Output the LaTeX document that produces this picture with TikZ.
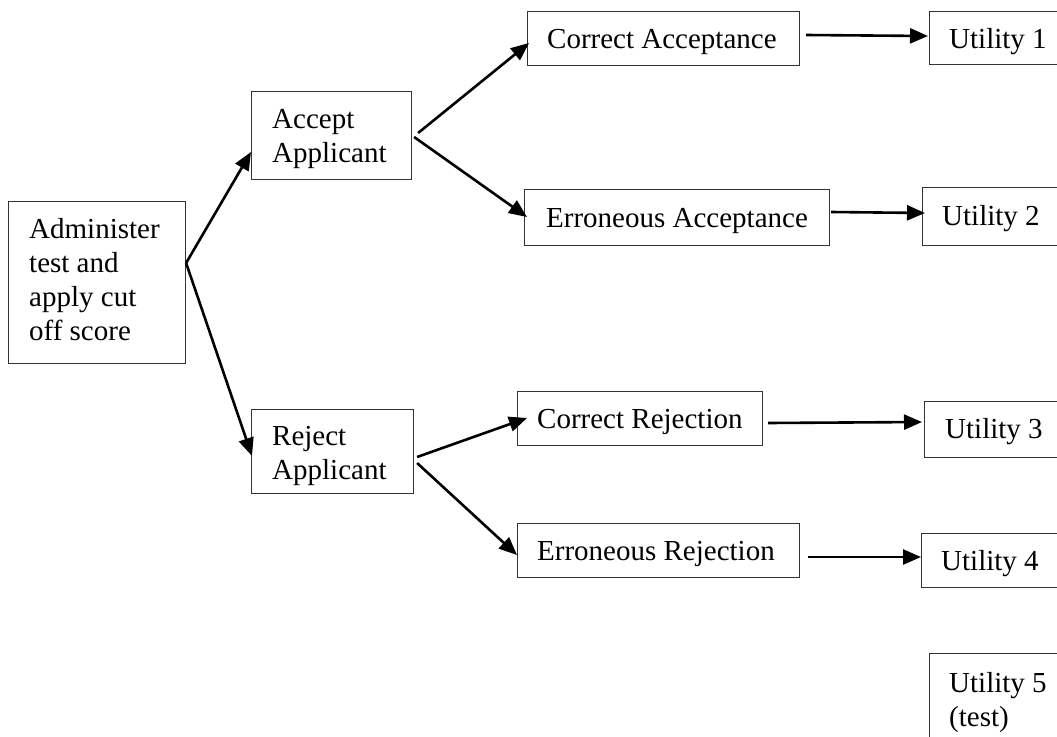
\documentclass[tikz,border=0pt]{standalone}
\usepackage{fontspec}
\setmainfont{Liberation Serif}
\usetikzlibrary{arrows.meta,calc}
\newcommand{\mlines}[1]{\begin{tabular}[t]{@{}l@{}}#1\end{tabular}}
\begin{document}
\begin{tikzpicture}[x=1pt,y=-1pt,
  box/.style={draw=black!80,line width=1.1pt,rectangle,anchor=north west,inner sep=0pt},
  lbl/.style={anchor=base west,inner sep=0pt,font=\fontsize{29}{34}\selectfont},
  arr/.style={line width=2.6pt,-{Triangle[length=18pt,width=15pt]}}]
\useasboundingbox (0,0) rectangle (1057,736);
\clip (0,0) rectangle (1057,736);
% boxes
\node[box,minimum width=177pt,minimum height=162pt] (adm) at (8,201) {};
\node[box,minimum width=160pt,minimum height=88pt] (acc) at (251,91) {};
\node[box,minimum width=162pt,minimum height=84pt] (rej) at (251,409) {};
\node[box,minimum width=272pt,minimum height=54pt] (ca) at (527,11) {};
\node[box,minimum width=305pt,minimum height=56pt] (ea) at (524,189) {};
\node[box,minimum width=245pt,minimum height=54pt] (cr) at (517,391) {};
\node[box,minimum width=282pt,minimum height=54pt] (er) at (517,523) {};
\node[box,minimum width=150pt,minimum height=53pt] (u1) at (929,11) {};
\node[box,minimum width=150pt,minimum height=58pt] (u2) at (922,187) {};
\node[box,minimum width=150pt,minimum height=56pt] (u3) at (924,401) {};
\node[box,minimum width=150pt,minimum height=54pt] (u4) at (921,533) {};
\node[box,minimum width=150pt,minimum height=110pt] (u5) at (929,653) {};
% labels
\node[lbl] (admt) at ($(adm.north west)+(21,37)$) {\mlines{Administer\\test and\\apply cut\\off score}};
\node[lbl] (acct) at ($(acc.north west)+(21,37)$) {\mlines{Accept\\Applicant}};
\node[lbl] (rejt) at ($(rej.north west)+(21,36)$) {\mlines{Reject\\Applicant}};
\node[lbl] (cat) at ($(ca.north west)+(20,37)$) {Correct Acceptance};
\node[lbl] (eat) at ($(ea.north west)+(22,38)$) {Erroneous Acceptance};
\node[lbl] (crt) at ($(cr.north west)+(20,37)$) {Correct Rejection};
\node[lbl] (ert) at ($(er.north west)+(20,37)$) {Erroneous Rejection};
\node[lbl] (u1t) at ($(u1.north west)+(20,37)$) {Utility 1};
\node[lbl] (u2t) at ($(u2.north west)+(20,38)$) {Utility 2};
\node[lbl] (u3t) at ($(u3.north west)+(21,37)$) {Utility 3};
\node[lbl] (u4t) at ($(u4.north west)+(20,37)$) {Utility 4};
\node[lbl] (u5t) at ($(u5.north west)+(20,39)$) {\mlines{Utility 5\\(test)}};
% connectors
\draw[arr] ($(adm.north east)+(0,62)$) -- ($(acc.north west)+(0,61)$);
\draw[arr] ($(adm.north east)+(0,62)$) -- ($(rej.north west)+(1,47)$);
\draw[arr] ($(acc.north east)+(6,42)$) -- ($(ca.north west)+(2,32)$);
\draw[arr] ($(acc.north east)+(2,46)$) -- ($(ea.north west)+(3,28)$);
\draw[arr] ($(rej.north east)+(3,48)$) -- ($(cr.north west)+(10,27)$);
\draw[arr] ($(rej.north east)+(3,54)$) -- ($(er.north west)+(0,32)$);
\draw[arr] ($(ca.north east)+(6,24)$) -- ($(u1.north west)+(-1,25)$);
\draw[arr] ($(ea.north east)+(1,23)$) -- ($(u2.north west)+(3,26)$);
\draw[arr] ($(cr.north east)+(5,32)$) -- ($(u3.north west)+(-2,21)$);
\draw[arr] ($(er.north east)+(8,34)$) -- ($(u4.north west)+(0,24)$);
\end{tikzpicture}
\end{document}
